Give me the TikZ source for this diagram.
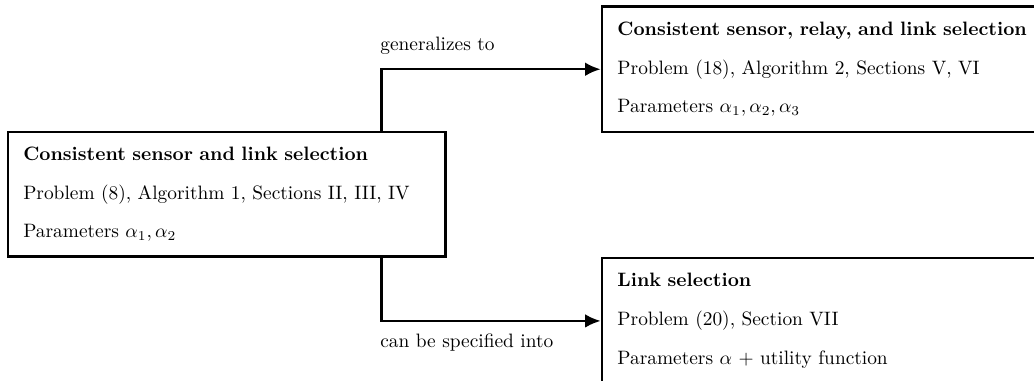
\documentclass[tikz,border=0pt]{standalone}
\usetikzlibrary{arrows.meta}
\begin{document}
\begin{tikzpicture}[x=0.516pt,y=-0.516pt,
  box/.style={draw,line width=1.3pt,rectangle,anchor=north west,align=left,
    text width=209.8pt,inner xsep=8pt,inner ysep=0pt,minimum width=225.8pt},
  conn/.style={line width=1.3pt,-{Latex[length=8pt,width=7pt]}},
  lbl/.style={inner sep=0pt,anchor=west}]
\useasboundingbox (0,0) rectangle (1034,381);
\clip (0,0) rectangle (1034,381);
\node[box,minimum height=64.2pt] (L) at (6.5,130.7)
  {\textbf{Consistent sensor and link selection}\\[8pt]
   Problem (8), Algorithm 1, Sections II, III, IV\\[8pt]
   Parameters $\alpha_1,\alpha_2$};
\node[box,minimum height=65pt,text width=240pt] (T) at (600.7,5)
  {\textbf{Consistent sensor, relay, and link selection}\\[8pt]
   Problem (18), Algorithm 2, Sections V, VI\\[8pt]
   Parameters $\alpha_1,\alpha_2,\alpha_3$};
\node[box,minimum height=65pt] (B) at (600.7,256.7)
  {\textbf{Link selection}\\[8pt]
   Problem (20), Section VII\\[8pt]
   Parameters $\alpha$ + utility function};
\coordinate (j) at (381.7,0);
\draw[conn] (L.north -| j) |- (T.west);
\draw[conn] (L.south -| j) |- (B.west);
\node[lbl] (g) at (380,46) {generalizes to};
\node[lbl] (s) at (380,343) {can be specified into};
\end{tikzpicture}
\end{document}
